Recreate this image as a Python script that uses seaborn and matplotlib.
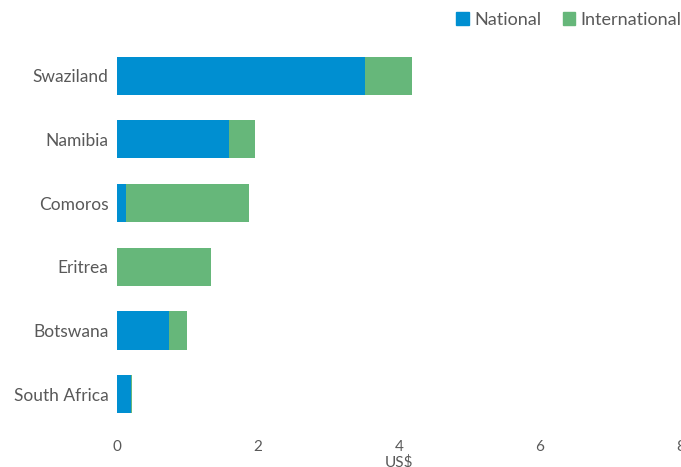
import numpy as np
import pandas as pd
import matplotlib
matplotlib.use("Agg")
import matplotlib.pyplot as plt
import seaborn as sns
from matplotlib.patches import Patch

# data (US$)
countries = ["Swaziland", "Namibia", "Comoros", "Eritrea", "Botswana", "South Africa"]
national = [3.52, 1.59, 0.13, 0.0, 0.74, 0.20]
international = [0.66, 0.37, 1.74, 1.33, 0.25, 0.01]

df = pd.DataFrame({"country": countries, "National": national, "International": international})
df["Total"] = df["National"] + df["International"]

blue = "#008fd1"
green = "#66b77a"
grey = "#595959"

sns.set_style("white")
plt.rcParams["font.family"] = ["Lato", "DejaVu Sans"]

fig = plt.figure(figsize=(6.81, 4.67), dpi=100)
ax = fig.add_axes([0.1718, 0.088, 0.828, 0.818])

sns.barplot(data=df, x="Total", y="country", color=green, width=0.6, saturation=1,
            linewidth=0, ax=ax)
sns.barplot(data=df, x="National", y="country", color=blue, width=0.6, saturation=1,
            linewidth=0, ax=ax)

ax.set_xlim(0, 8)
ax.set_xticks([0, 2, 4, 6, 8])
ax.set_ylabel("")
ax.set_xlabel("US$", color=grey, fontsize=11, labelpad=1)
ax.tick_params(axis="y", labelsize=12.5, colors=grey, length=0, pad=6)
ax.tick_params(axis="x", labelsize=11, colors=grey, length=0, pad=10)
sns.despine(ax=ax, left=True, bottom=True)

handles = [Patch(color=blue, label="National"), Patch(color=green, label="International")]
fig.legend(handles=handles, loc="upper right", bbox_to_anchor=(1.025, 1.01), ncol=2,
           frameon=False, fontsize=13, handlelength=0.7, handleheight=0.7,
           handletextpad=0.3, columnspacing=1.2, labelcolor=grey)

fig.savefig("out.png", dpi=100)
